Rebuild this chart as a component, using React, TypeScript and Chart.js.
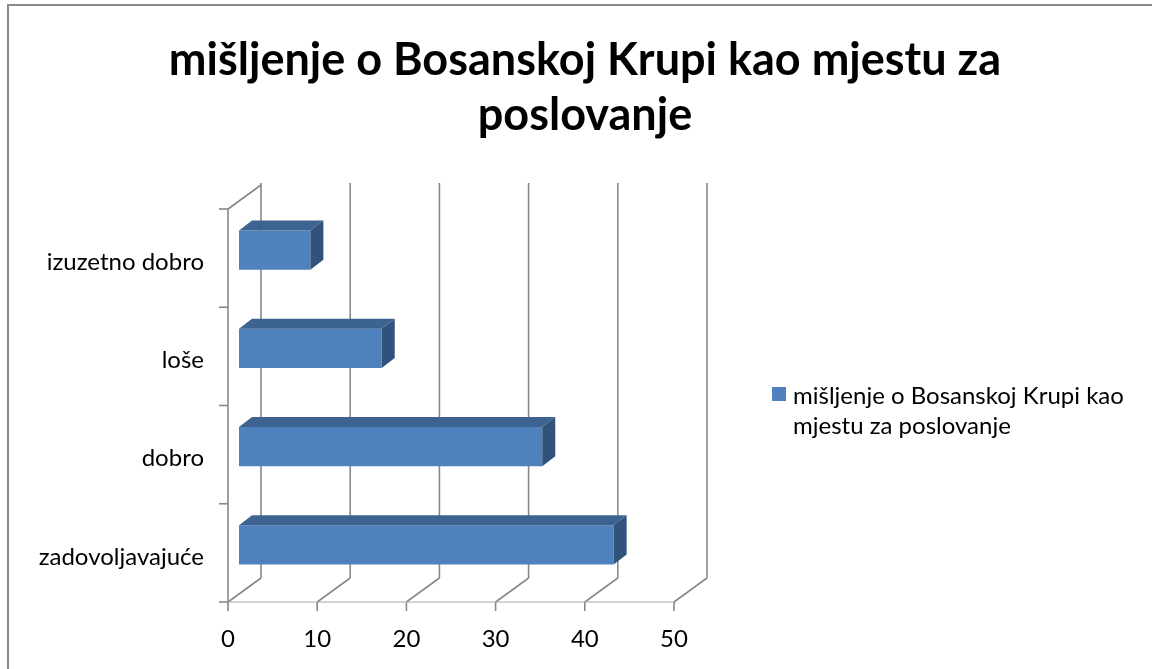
import React, { useEffect, useRef } from 'react';
import { Chart, registerables } from 'chart.js';

Chart.register(...registerables);

// ---------- data ----------
const categories = ['izuzetno dobro', 'loše', 'dobro', 'zadovoljavajuće'];
const values = [8, 16, 34, 42];
const seriesLabel = 'mišljenje o Bosanskoj Krupi kao mjestu za poslovanje';
const titleLines = ['mišljenje o Bosanskoj Krupi kao mjestu za', 'poslovanje'];
const legendLines = ['mišljenje o Bosanskoj Krupi kao', 'mjestu za poslovanje'];
const xMin = 0;
const xMax = 50;
const xStep = 10;

// ---------- style ----------
const FONT = 'Lato, "Open Sans", sans-serif';
const GRID = '#888888';
const FRONT = '#4F81BD';
const TOP = '#3D6491';
const SIDE = '#30527B';
const WALL_DEPTH = { dx: 33, dy: -24 };
const BAR_OFFSET = { dx: 11, dy: -8 };
const BAR_DEPTH = { dx: 13, dy: -10 };

const line = (ctx: CanvasRenderingContext2D, x1: number, y1: number, x2: number, y2: number) => {
  ctx.beginPath();
  ctx.moveTo(x1, y1);
  ctx.lineTo(x2, y2);
  ctx.stroke();
};

const wallsPlugin = {
  id: 'walls3d',
  beforeDatasetsDraw(chart: any) {
    const { ctx, chartArea, scales } = chart;
    const { left, right, top, bottom } = chartArea;
    const x = scales.x;
    const y = scales.y;
    ctx.save();
    ctx.strokeStyle = GRID;
    ctx.lineWidth = 1.6;
    // value gridlines on back wall + floor diagonals + ticks
    for (let v = xMin; v <= xMax; v += xStep) {
      const px = x.getPixelForValue(v);
      line(ctx, px + WALL_DEPTH.dx, top + WALL_DEPTH.dy - 2, px + WALL_DEPTH.dx, bottom + WALL_DEPTH.dy);
      line(ctx, px, bottom, px + WALL_DEPTH.dx, bottom + WALL_DEPTH.dy);
      line(ctx, px, bottom, px, bottom + 9);
    }
    // left wall front edge and top
    line(ctx, left, top, left, bottom);
    line(ctx, left, top, left + WALL_DEPTH.dx, top + WALL_DEPTH.dy);
    // category ticks
    for (let i = 0; i <= categories.length; i++) {
      const py = y.getPixelForValue(i - 0.5);
      line(ctx, left - 9, py, left, py);
    }
    // floor front edge
    ctx.lineWidth = 1;
    ctx.strokeStyle = '#a8a8a8';
    line(ctx, left, bottom, right, bottom);
    ctx.restore();
  },
  beforeDatasetDraw(chart: any) {
    chart.ctx.save();
    chart.ctx.translate(BAR_OFFSET.dx, BAR_OFFSET.dy);
  },
  afterDatasetDraw(chart: any, args: any) {
    const ctx = chart.ctx;
    ctx.restore();
    const meta = chart.getDatasetMeta(args.index);
    ctx.save();
    meta.data.forEach((el: any) => {
      const { x, y, base, height } = el.getProps(['x', 'y', 'base', 'height'], true);
      const l = base + BAR_OFFSET.dx;
      const r = x + BAR_OFFSET.dx;
      const t = y - height / 2 + BAR_OFFSET.dy;
      const b = y + height / 2 + BAR_OFFSET.dy;
      // top face
      ctx.fillStyle = TOP;
      ctx.beginPath();
      ctx.moveTo(l, t);
      ctx.lineTo(r, t);
      ctx.lineTo(r + BAR_DEPTH.dx, t + BAR_DEPTH.dy);
      ctx.lineTo(l + BAR_DEPTH.dx, t + BAR_DEPTH.dy);
      ctx.closePath();
      ctx.fill();
      // side face
      ctx.fillStyle = SIDE;
      ctx.beginPath();
      ctx.moveTo(r, t);
      ctx.lineTo(r + BAR_DEPTH.dx, t + BAR_DEPTH.dy);
      ctx.lineTo(r + BAR_DEPTH.dx, b + BAR_DEPTH.dy);
      ctx.lineTo(r, b);
      ctx.closePath();
      ctx.fill();
    });
    ctx.restore();
  },
  afterDraw(chart: any) {
    const ctx = chart.ctx;
    ctx.save();
    // title
    ctx.fillStyle = '#000';
    ctx.textAlign = 'center';
    ctx.textBaseline = 'middle';
    ctx.font = `bold 45px ${FONT}`;
    titleLines.forEach((t, i) => ctx.fillText(t, 585, 60 + i * 55));
    // legend
    ctx.fillStyle = FRONT;
    ctx.fillRect(772, 387, 14, 14);
    ctx.fillStyle = '#000';
    ctx.textAlign = 'left';
    ctx.font = `24px ${FONT}`;
    legendLines.forEach((t, i) => ctx.fillText(t, 793, 396 + i * 30));
    ctx.restore();
  },
};

export default function App() {
  const canvasRef = useRef<HTMLCanvasElement | null>(null);

  useEffect(() => {
    const canvas = canvasRef.current;
    if (!canvas) return;
    const chart = new Chart(canvas, {
      type: 'bar',
      data: {
        labels: categories,
        datasets: [
          {
            label: seriesLabel,
            data: values,
            backgroundColor: FRONT,
            borderWidth: 0,
            barPercentage: 0.4,
            categoryPercentage: 1,
            clip: false as any,
          },
        ],
      },
      options: {
        indexAxis: 'y',
        responsive: false,
        animation: false,
        layout: { padding: { top: 209, right: 478, left: 0, bottom: 0 } },
        plugins: {
          legend: { display: false },
          title: { display: false },
          tooltip: { enabled: false },
        },
        scales: {
          x: {
            type: 'linear',
            min: xMin,
            max: xMax,
            ticks: {
              stepSize: xStep,
              color: '#000',
              font: { family: FONT, size: 24 },
              padding: 23,
            },
            grid: { display: false, drawTicks: false },
            border: { display: false },
            afterFit: (scale: any) => {
              scale.height = 67;
            },
          },
          y: {
            type: 'category',
            ticks: {
              color: '#000',
              font: { family: FONT, size: 24 },
              padding: 24,
              labelOffset: 4,
            },
            grid: { display: false, drawTicks: false },
            border: { display: false },
            afterFit: (scale: any) => {
              scale.width = 228;
            },
          },
        },
      },
      plugins: [wallsPlugin],
    });
    return () => chart.destroy();
  }, []);

  return (
    <div style={{ position: 'fixed', left: 0, top: 0, width: 1152, height: 669, overflow: 'hidden', background: '#fff' }}>
      <div
        style={{
          position: 'absolute',
          left: 7,
          top: 4,
          width: 1200,
          height: 800,
          borderLeft: '2px solid #8a8a8a',
          borderTop: '2px solid #8a8a8a',
        }}
      />
      <canvas ref={canvasRef} width={1152} height={669} style={{ position: 'absolute', left: 0, top: 0 }} />
    </div>
  );
}
